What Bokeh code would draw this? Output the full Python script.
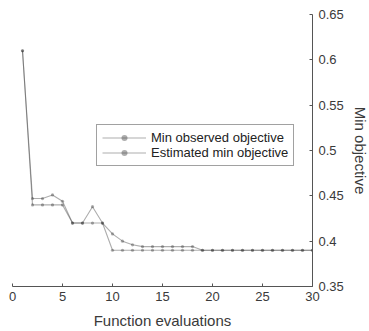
from bokeh.plotting import figure
from bokeh.models import LinearAxis, Range1d, FixedTicker, CustomJSTickFormatter, Legend, LegendItem
from bokeh.embed import file_html
from bokeh.resources import INLINE

evals = list(range(1, 31))
min_observed = [0.61, 0.44, 0.44, 0.44, 0.44, 0.42, 0.42, 0.42, 0.42, 0.39,
                0.39, 0.39, 0.39, 0.39, 0.39, 0.39, 0.39, 0.39, 0.39, 0.39,
                0.39, 0.39, 0.39, 0.39, 0.39, 0.39, 0.39, 0.39, 0.39, 0.39]
est_min = [0.61, 0.447, 0.447, 0.451, 0.444, 0.42, 0.42, 0.438, 0.42, 0.408,
           0.40, 0.396, 0.394, 0.394, 0.394, 0.394, 0.394, 0.394, 0.39, 0.39,
           0.39, 0.39, 0.39, 0.39, 0.39, 0.39, 0.39, 0.39, 0.39, 0.39]
x_ticks = [0, 5, 10, 15, 20, 25, 30]
y_ticks = [0.35, 0.4, 0.45, 0.5, 0.55, 0.6, 0.65]

FONT = "Liberation Sans"
TXT = "#3a3a3a"
AX = "#555555"

p = figure(frame_width=300, frame_height=272, output_backend="svg", toolbar_location=None,
           x_range=Range1d(0, 30), y_range=Range1d(0.35, 0.65),
           x_axis_location=None, y_axis_location=None,
           min_border_left=12, min_border_top=14, min_border_right=3, min_border_bottom=5)
p.grid.visible = False
p.outline_line_color = None
p.background_fill_color = "white"

xa = LinearAxis(ticker=FixedTicker(ticks=x_ticks), axis_label="Function evaluations")
ya = LinearAxis(ticker=FixedTicker(ticks=y_ticks), axis_label="Min objective",
                formatter=CustomJSTickFormatter(code="return tick.toFixed(2).replace(/0$/, '');"))
for ax in (xa, ya):
    ax.major_tick_in = 3
    ax.major_tick_out = 0
    ax.minor_tick_line_color = None
    ax.axis_line_color = AX
    ax.major_tick_line_color = AX
    ax.major_label_text_font = FONT
    ax.major_label_text_font_size = "13px"
    ax.major_label_text_color = TXT
    ax.axis_label_text_font = FONT
    ax.axis_label_text_font_size = "15px"
    ax.axis_label_text_font_style = "normal"
    ax.axis_label_text_color = TXT
xa.major_label_standoff = 5
xa.axis_label_standoff = 8
ya.major_label_standoff = 6
ya.axis_label_standoff = 5
p.add_layout(xa, "below")
p.add_layout(ya, "right")

C = "#333333"
A = 0.4
l1 = p.line(evals, min_observed, line_color=C, line_alpha=A, line_width=1.1)
m1 = p.scatter(evals, min_observed, size=3.2, fill_color=C, fill_alpha=A, line_color=None)
l2 = p.line(evals, est_min, line_color=C, line_alpha=A, line_width=1.1)
m2 = p.scatter(evals, est_min, size=3.2, fill_color=C, fill_alpha=A, line_color=None)

legend = Legend(items=[LegendItem(label="Min observed objective", renderers=[l1, m1]),
                       LegendItem(label="Estimated min objective", renderers=[l2, m2])],
                location=(84, 120), glyph_width=44, glyph_height=15, label_height=15,
                label_standoff=5, padding=5, spacing=0, margin=0,
                label_text_font=FONT, label_text_font_size="13px", label_text_color="#222222",
                border_line_color="#444444", border_line_width=1,
                background_fill_color="white", background_fill_alpha=1.0)
p.add_layout(legend, "center")

open("out.html", "w").write(file_html(p, INLINE))
